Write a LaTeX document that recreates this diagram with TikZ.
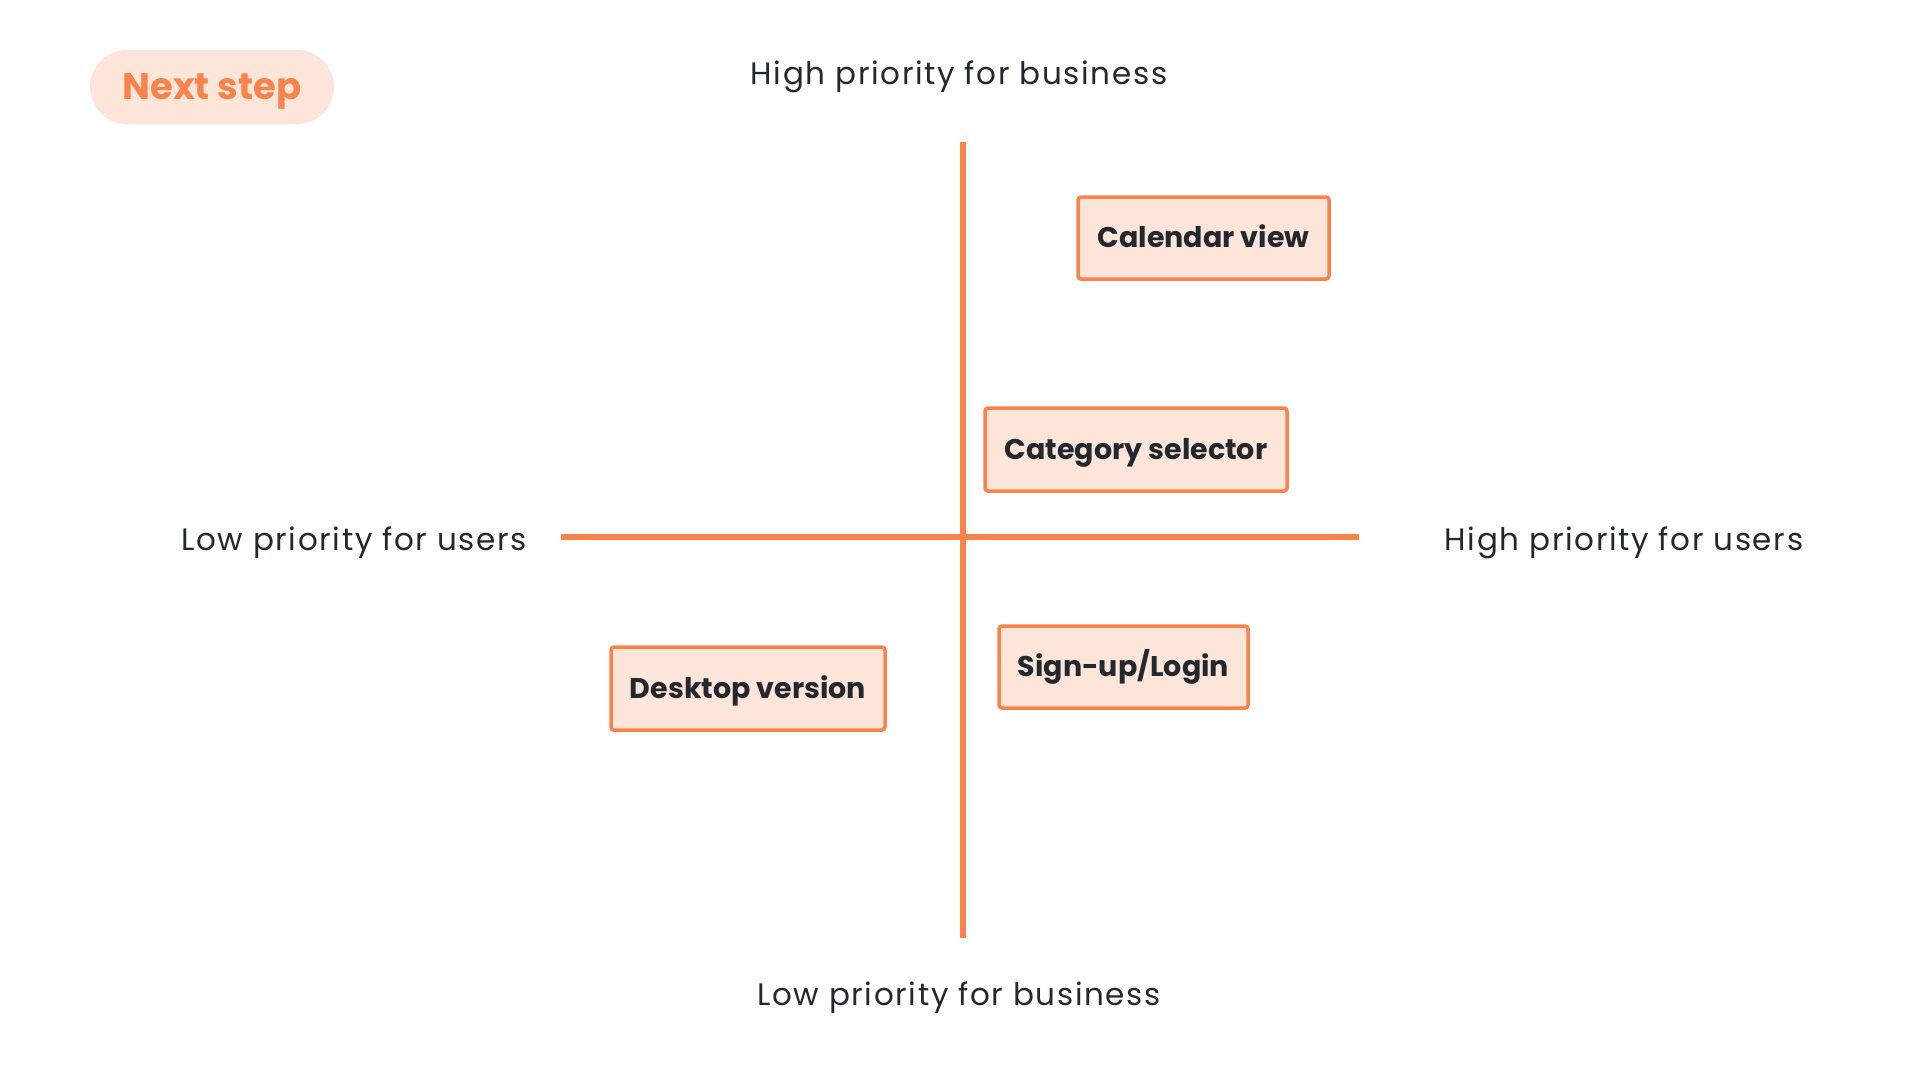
\documentclass[tikz,border=0pt]{standalone}
\usepackage{fontspec}
\setmainfont{Poppins}
\newfontfamily\spacedpop[LetterSpace=5.3]{Poppins}
\definecolor{accent}{HTML}{F9834A}
\definecolor{softfill}{HTML}{FDE5DA}
\definecolor{inkc}{HTML}{22282E}
\begin{document}
\begin{tikzpicture}[x=1pt,y=-1pt,
  itembox/.style={draw=accent, fill=softfill, line width=3.5pt, rounded corners=3pt,
    text=inkc, font=\fontsize{28.5}{33}\selectfont\bfseries, inner sep=0pt, anchor=center,
    text height=19.9pt, text depth=0pt},
  axislabel/.style={text=inkc, font=\spacedpop\fontsize{31}{36}\selectfont, anchor=center, inner sep=0pt,
    text height=21.6pt, text depth=0pt},
  axisline/.style={draw=accent, line width=6pt}]
\useasboundingbox (0,0) rectangle (1920,1080);
\fill[white] (0,0) rectangle (1920,1080);
% badge
\node[fill=softfill, rounded corners=37pt, minimum width=244pt, minimum height=74pt, inner sep=0pt,
  text=accent, font=\fontsize{37}{42}\selectfont\bfseries, text height=25.8pt, text depth=0pt] (badge) at (212,87) {Next step};
% axes
\coordinate (vtop) at (963,142);
\coordinate (vbot) at (963,938);
\coordinate (hleft) at (561,537);
\coordinate (hright) at (1359,537);
\draw[axisline] (vtop) -- (vbot);
\draw[axisline] (hleft) -- (hright);
% axis labels
\node[axislabel] (hb) at (959,73.5) {High priority for business};
\node[axislabel] (lb) at (959,994.5) {Low priority for business};
\node[axislabel] (lu) at (354,539.5) {Low priority for users};
\node[axislabel] (hu) at (1624,539.5) {High priority for users};
% items
\node[itembox, minimum width=251pt, minimum height=82pt] (cal) at (1203.5,238) {Calendar view};
\node[itembox, minimum width=302pt, minimum height=83pt] (cat) at (1136,449.5) {Category selector};
\node[itembox, minimum width=249pt, minimum height=82pt] (sign) at (1123.5,667) {Sign-up/Login};
\node[itembox, minimum width=274pt, minimum height=83pt] (desk) at (748,688.5) {Desktop version};
\end{tikzpicture}
\end{document}
